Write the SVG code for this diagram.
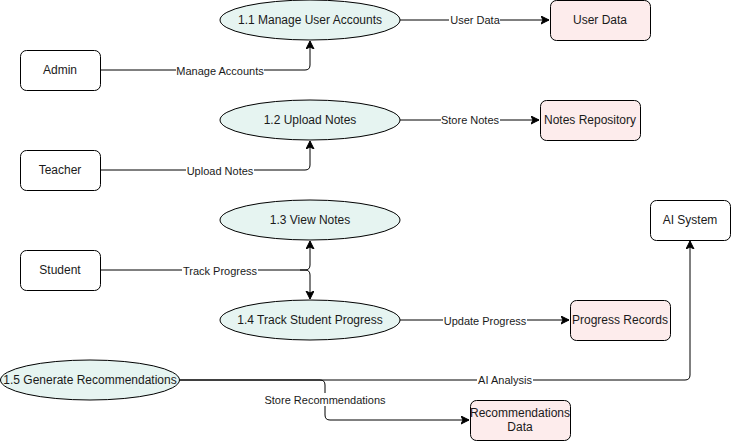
<svg xmlns="http://www.w3.org/2000/svg" width="732" height="442" viewBox="0 0 732 442">
<style>
.ent{fill:#ffffff;stroke:#000;stroke-width:1}
.proc{fill:#e6f4f1;stroke:#000;stroke-width:1}
.store{fill:#fdecec;stroke:#000;stroke-width:1}
.nt{font-family:"Liberation Sans",Arial,sans-serif;font-size:12px;fill:#1a1a1a;text-anchor:middle;dominant-baseline:central}
.et{font-family:"Liberation Sans",Arial,sans-serif;font-size:11px;fill:#1a1a1a;text-anchor:middle;dominant-baseline:central}
.ln{fill:none;stroke:#000;stroke-width:1}
.lb{fill:#ffffff}
</style>
<defs>
<marker id="arr" markerUnits="userSpaceOnUse" markerWidth="10" markerHeight="10" refX="8" refY="4" orient="auto">
<path d="M0,0 L8,4 L0,8 L2,4 Z" fill="#000" stroke="#000" stroke-width="1"/>
</marker>
</defs>
<g id="connectors">
<path class="ln" d="M100,70 H305 Q310,70 310,65 V41" marker-end="url(#arr)"/>
<path class="ln" d="M400,20 H549" marker-end="url(#arr)"/>
<path class="ln" d="M100,170 H305 Q310,170 310,165 V141" marker-end="url(#arr)"/>
<path class="ln" d="M400,120 H539" marker-end="url(#arr)"/>
<path class="ln" d="M100,270 H305 Q310,270 310,265 V241" marker-end="url(#arr)"/>
<path class="ln" d="M300,270 H305 Q310,270 310,275 V299" marker-end="url(#arr)"/>
<path class="ln" d="M400,320 H569" marker-end="url(#arr)"/>
<path class="ln" d="M180,380 H685 Q690,380 690,375 V241" marker-end="url(#arr)"/>
<path class="ln" d="M180,380 H320 Q325,380 325,385 V415 Q325,420 330,420 H469" marker-end="url(#arr)"/>
<rect class="lb" x="176" y="64" width="88" height="13"/>
<text class="et" x="220" y="71">Manage Accounts</text>
<rect class="lb" x="449" y="13" width="51" height="13"/>
<text class="et" x="475" y="20">User Data</text>
<rect class="lb" x="186" y="164" width="68" height="13"/>
<text class="et" x="220" y="171">Upload Notes</text>
<rect class="lb" x="441" y="113" width="59" height="13"/>
<text class="et" x="470" y="120">Store Notes</text>
<rect class="lb" x="182" y="264" width="76" height="13"/>
<text class="et" x="220" y="271">Track Progress</text>
<rect class="lb" x="443" y="314" width="84" height="13"/>
<text class="et" x="485" y="321">Update Progress</text>
<rect class="lb" x="477" y="373" width="56" height="13"/>
<text class="et" x="505" y="380">AI Analysis</text>
<rect class="lb" x="263" y="393" width="124" height="13"/>
<text class="et" x="325" y="400">Store Recommendations</text>
</g>
<g id="admin"><rect class="ent" x="20.5" y="50.5" width="80" height="40" rx="6"/><text class="nt" x="60" y="70">Admin</text></g>
<g id="teacher"><rect class="ent" x="20.5" y="150.5" width="80" height="40" rx="6"/><text class="nt" x="60" y="170">Teacher</text></g>
<g id="student"><rect class="ent" x="20.5" y="250.5" width="80" height="40" rx="6"/><text class="nt" x="60" y="270">Student</text></g>
<g id="ai-system"><rect class="ent" x="650.5" y="200.5" width="80" height="40" rx="6"/><text class="nt" x="690" y="220">AI System</text></g>
<g id="p11"><ellipse class="proc" cx="310" cy="20" rx="90" ry="20"/><text class="nt" x="310" y="20">1.1 Manage User Accounts</text></g>
<g id="p12"><ellipse class="proc" cx="310" cy="120" rx="90" ry="20"/><text class="nt" x="310" y="120">1.2 Upload Notes</text></g>
<g id="p13"><ellipse class="proc" cx="310" cy="220" rx="90" ry="20"/><text class="nt" x="310" y="220">1.3 View Notes</text></g>
<g id="p14"><ellipse class="proc" cx="310" cy="320" rx="90" ry="20"/><text class="nt" x="310" y="320">1.4 Track Student Progress</text></g>
<g id="p15"><ellipse class="proc" cx="90" cy="380" rx="89.5" ry="20"/><text class="nt" x="90" y="380">1.5 Generate Recommendations</text></g>
<g id="user-data"><rect class="store" x="550.5" y="0.5" width="100" height="40" rx="6"/><text class="nt" x="600" y="20">User Data</text></g>
<g id="notes-repo"><rect class="store" x="540.5" y="100.5" width="100" height="40" rx="6"/><text class="nt" x="590" y="120">Notes Repository</text></g>
<g id="progress-records"><rect class="store" x="570.5" y="300.5" width="100" height="40" rx="6"/><text class="nt" x="620" y="320">Progress Records</text></g>
<g id="rec-data"><rect class="store" x="470.5" y="400.5" width="100" height="40" rx="6"/><text class="nt" x="520" y="413">Recommendations</text><text class="nt" x="520" y="427">Data</text></g>
</svg>
